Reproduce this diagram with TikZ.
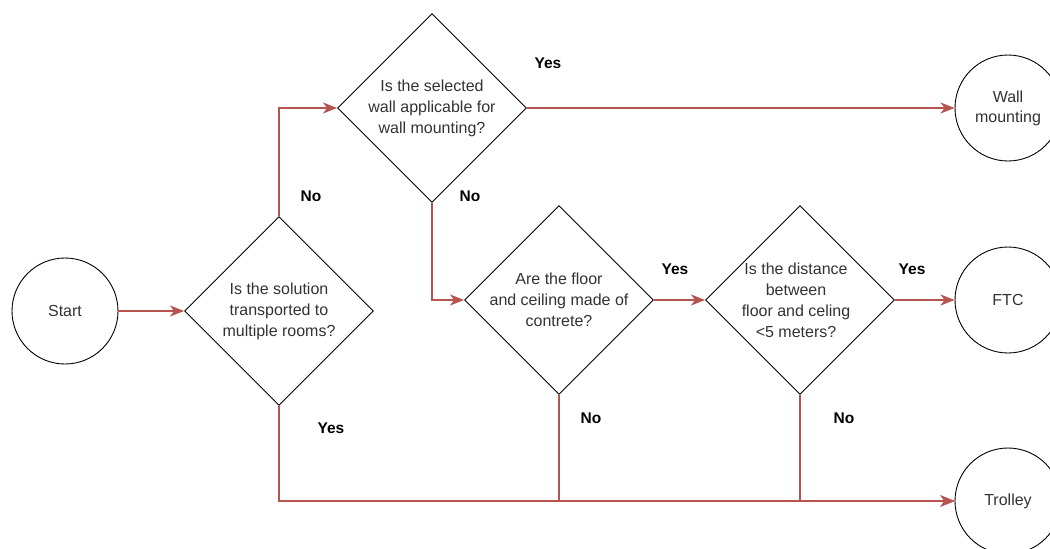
\documentclass[tikz,border=0pt]{standalone}
\usepackage{fontspec}
\setmainfont{Liberation Sans}
\usetikzlibrary{shapes.geometric,arrows.meta}
\definecolor{flow}{HTML}{B85450}
\definecolor{ink}{HTML}{333333}
\tikzset{
  terminal/.style={circle,draw=black,line width=0.9pt,minimum size=106pt,inner sep=0pt,
    text=ink,align=center,font=\fontsize{16}{20}\selectfont},
  decision/.style={diamond,draw=black,line width=0.9pt,minimum width=189pt,minimum height=189pt,inner sep=0pt},
  question/.style={text=ink,align=center,font=\fontsize{16}{21}\selectfont,inner sep=0pt},
  answer/.style={font=\bfseries\fontsize{15.5}{18}\selectfont,text=black,inner sep=0pt},
  flowline/.style={draw=flow,line width=1.6pt,-{Stealth[length=14pt,width=11pt,inset=4pt]}}
}
\begin{document}
\begin{tikzpicture}[x=1pt,y=-1pt]
\useasboundingbox[fill=white] (0,0) rectangle (1050,549);

% start and end points
\node[terminal] (start) at (65,311) {Start};
\node[terminal] (wall) at (1008,108) {Wall\\mounting};
\node[terminal] (ftc) at (1008,300) {FTC};
\node[terminal] (trolley) at (1008,501) {Trolley};

% decisions
\node[decision] (d1) at (279,311) {};
\node[question] at (d1) {Is the solution\\transported to\\multiple rooms?};
\node[decision] (d2) at (432,108) {};
\node[question] at (d2) {Is the selected\\wall applicable for\\wall mounting?};
\node[decision] (d3) at (559,300) {};
\node[question] at (d3) {Are the floor\\and ceiling made of\\contrete?};
\node[decision] (d4) at (800,300) {};
\node[question] at ([xshift=-4pt]d4.center) {Is the distance\\between\\floor and celing\\<5 meters?};

% connectors
\draw[flowline] (start) -- (d1);
\draw[flowline] (d1.north) |- (d2.west);
\draw[flowline] (d2.east) -- (wall.west);
\draw[flowline] (d2.south) |- (d3.west);
\draw[flowline] (d3.east) -- (d4.west);
\draw[flowline] (d4.east) -- (ftc.west);
\draw[flowline] (d1.south) |- (trolley.west);
\draw[flowline] (d3.south) |- (trolley.west);
\draw[flowline] (d4.south) |- (trolley.west);

% answers
\node[answer] (a1) at (311,196) {No};
\node[answer] (a2) at (548,63) {Yes};
\node[answer] (a3) at (470,196) {No};
\node[answer] (a4) at (675,269) {Yes};
\node[answer] (a5) at (912,269) {Yes};
\node[answer] (a6) at (331,428) {Yes};
\node[answer] (a7) at (591,418) {No};
\node[answer] (a8) at (844,418) {No};
\end{tikzpicture}
\end{document}
